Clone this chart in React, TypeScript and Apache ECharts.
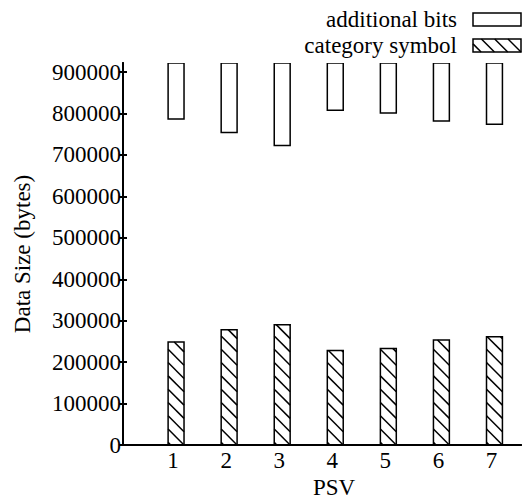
import React, { useEffect, useRef } from "react";
import * as echarts from "echarts";

const categories = [1, 2, 3, 4, 5, 6, 7];
const additionalBits = [787000, 754500, 723000, 807700, 801500, 782100, 773900];
const categorySymbol = [248400, 278400, 290500, 228300, 233200, 253300, 261500];
const yTicks = [0, 100000, 200000, 300000, 400000, 500000, 600000, 700000, 800000, 900000];
const seriesNames = ["additional bits", "category symbol"];

const FONT = "Liberation Serif";
const FS = 23;
const HATCH_STEP = 13.3;

function hatchLines(x0: number, y0: number, x1: number, y1: number, lw: number) {
  const out: any[] = [];
  const c0 = y1 - x1;
  for (let j = -80; j <= 4; j++) {
    const c = c0 + j * HATCH_STEP;
    const xa = Math.max(x0, y0 - c);
    const xb = Math.min(x1, y1 - c);
    if (xb - xa > 0.3) {
      out.push({
        type: "line",
        shape: { x1: xa, y1: xa + c, x2: xb, y2: xb + c },
        style: { stroke: "#000", lineWidth: lw },
      });
    }
  }
  return out;
}

export default function App() {
  const ref = useRef<HTMLDivElement>(null);
  useEffect(() => {
    if (!ref.current) return;
    const chart = echarts.init(ref.current, null, { renderer: "svg" });
    const textStyle = { fontFamily: FONT, fontSize: FS, color: "#000" };
    const gText = (text: string, x: number, y: number, align: string) => ({
      type: "text",
      x,
      y,
      style: {
        text,
        align,
        verticalAlign: "middle",
        fontFamily: FONT,
        fontSize: FS,
        lineHeight: 20,
        fill: "#000",
      },
    });

    const option: any = {
      animation: false,
      backgroundColor: "#fff",
      grid: { left: 123, right: 6, top: 63, bottom: 53 },
      xAxis: [
        {
          type: "value",
          min: 0,
          max: 7.5,
          interval: 1,
          position: "bottom",
          z: 10,
          axisLine: { show: true, lineStyle: { color: "#000", width: 2 } },
          axisTick: { show: false },
          splitLine: { show: false },
          axisLabel: {
            customValues: categories,
            margin: 5,
            lineHeight: 20,
            padding: [0, 6, 0, 0],
            formatter: (v: number) => String(v),
            ...textStyle,
          },
        },
        {
          type: "value",
          min: 0,
          max: 7.5,
          interval: 1,
          position: "top",
          z: 10,
          axisLine: { show: true, lineStyle: { color: "#000", width: 2 } },
          axisTick: { show: false },
          splitLine: { show: false },
          axisLabel: { show: false },
        },
      ],
      yAxis: [
        {
          type: "value",
          min: 0,
          max: 922000,
          position: "left",
          z: 10,
          name: "Data Size (bytes)",
          nameLocation: "middle",
          nameGap: 89,
          nameTextStyle: { ...textStyle },
          axisLine: { show: true, lineStyle: { color: "#000", width: 2 } },
          axisTick: {
            show: true,
            inside: true,
            length: 4,
            customValues: yTicks,
            lineStyle: { color: "#000", width: 2 },
          },
          splitLine: { show: false },
          axisLabel: {
            customValues: yTicks,
            margin: 2,
            formatter: (v: number) => String(v),
            ...textStyle,
          },
        },
        {
          type: "value",
          min: 0,
          max: 922000,
          position: "right",
          z: 10,
          axisLine: { show: true, lineStyle: { color: "#000", width: 2 } },
          axisTick: {
            show: true,
            inside: true,
            length: 4,
            customValues: yTicks,
            lineStyle: { color: "#000", width: 2 },
          },
          splitLine: { show: false },
          axisLabel: { show: false },
        },
      ],
      series: [
        {
          name: seriesNames[0],
          type: "custom",
          xAxisIndex: 0,
          yAxisIndex: 0,
          clip: true,
          data: categories.map((c, i) => [c, additionalBits[i]]),
          renderItem: (params: any, api: any) => {
            const x = api.value(0);
            const v = api.value(1);
            const p = api.coord([x, v]);
            const w = api.size([1, 0])[0] * 0.3;
            const topY = params.coordSys.y;
            return {
              type: "rect",
              shape: { x: p[0] - w / 2, y: topY, width: w, height: p[1] - topY },
              style: { fill: "#fff", stroke: "#000", lineWidth: 1.5 },
            };
          },
        },
        {
          name: seriesNames[1],
          type: "custom",
          xAxisIndex: 0,
          yAxisIndex: 0,
          clip: true,
          data: categories.map((c, i) => [c, categorySymbol[i]]),
          renderItem: (params: any, api: any) => {
            const x = api.value(0);
            const v = api.value(1);
            const p = api.coord([x, v]);
            const b = api.coord([x, 0]);
            const w = api.size([1, 0])[0] * 0.3;
            const x0 = p[0] - w / 2;
            const x1 = p[0] + w / 2;
            const y0 = p[1];
            const y1 = b[1];
            return {
              type: "group",
              children: [
                { type: "rect", shape: { x: x0, y: y0, width: w, height: y1 - y0 }, style: { fill: "#fff" } },
                ...hatchLines(x0, y0, x1, y1, 1.5),
                {
                  type: "rect",
                  shape: { x: x0, y: y0, width: w, height: y1 - y0 },
                  style: { fill: "none", stroke: "#000", lineWidth: 1.5 },
                },
              ],
            };
          },
        },
      ],
      graphic: [
        gText(seriesNames[0], 457, 19, "right"),
        {
          type: "rect",
          shape: { x: 473, y: 13, width: 48, height: 13 },
          style: { fill: "#fff", stroke: "#000", lineWidth: 1.5 },
        },
        gText(seriesNames[1], 457, 45, "right"),
        {
          type: "group",
          children: [
            { type: "rect", shape: { x: 473, y: 39, width: 48, height: 13 }, style: { fill: "#fff" } },
            ...hatchLines(473, 39, 521, 52, 1.5),
            { type: "rect", shape: { x: 473, y: 39, width: 48, height: 13 }, style: { fill: "none", stroke: "#000", lineWidth: 1.5 } },
          ],
        },
        gText("PSV", 334, 487, "center"),
      ],
    };
    chart.setOption(option);
    return () => chart.dispose();
  }, []);
  return <div ref={ref} style={{ position: "fixed", left: 0, top: 0, width: 527, height: 498 }} />;
}
